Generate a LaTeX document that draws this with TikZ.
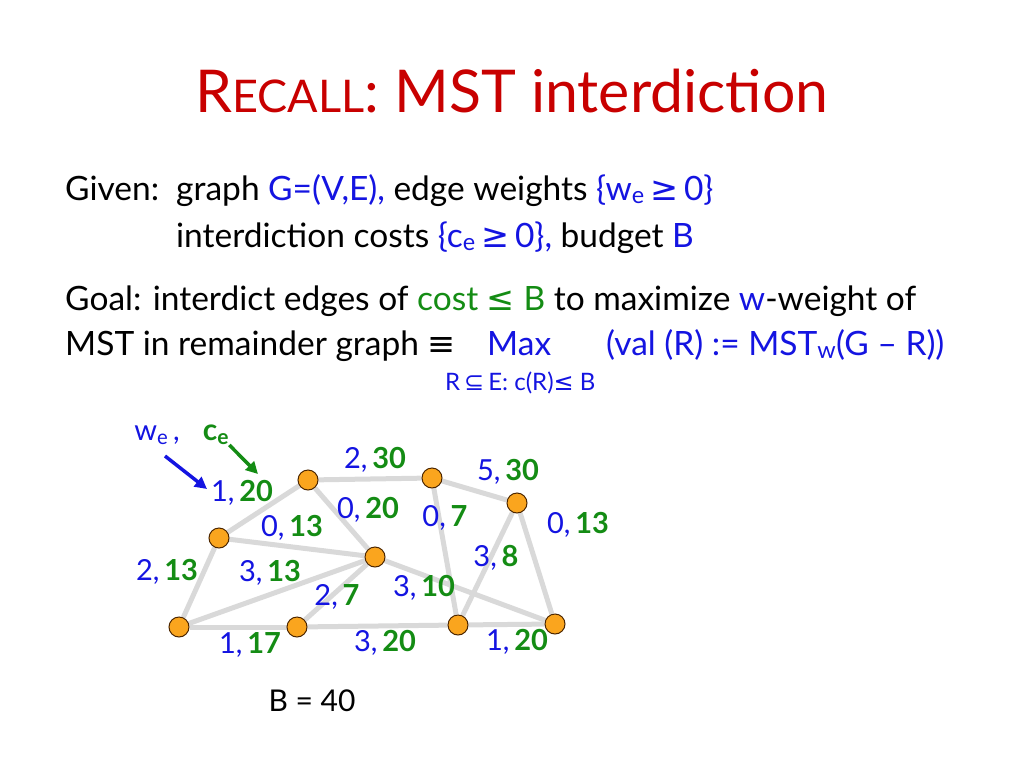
\documentclass[tikz,border=0pt]{standalone}
\usepackage{fontspec}
\setmainfont{Lato}
\newfontfamily\symfont{DejaVu Sans}
\usetikzlibrary{arrows.meta, backgrounds}
\definecolor{titlered}{RGB}{200, 0, 0}
\definecolor{wblue}{RGB}{20, 20, 225}
\definecolor{cgreen}{RGB}{20, 140, 20}
\definecolor{vorange}{RGB}{250, 165, 30}
\newcommand{\wc}[2]{{\color{wblue}#1,\,}{\color{cgreen}\bfseries #2}}

\begin{document}
\begin{tikzpicture}[x=1pt, y=-1pt,
    vertex/.style={circle, fill=vorange, draw=black!70!orange, line width=1pt, minimum size=20pt, inner sep=0pt},
    edge/.style={line width=5pt, black!15},
    elabel/.style={font=\fontsize{29}{33}\selectfont, inner sep=0pt},
    txt/.style={anchor=base west, inner sep=0pt, font=\fontsize{33.5}{38}\selectfont}]
\useasboundingbox (0,0) rectangle (1024,768);
% title
\node[anchor=base, inner sep=0pt, text=titlered] (title) at (512,112)
    {\fontsize{59}{64}\selectfont R\fontsize{45}{50}\selectfont ECALL\fontsize{59}{64}\selectfont: MST interdiction};
% problem statement
\node[txt] (given) at (65,200) {Given:};
\node[txt] (line1) at (176,200) {graph {\color{wblue}G=(V,E),} edge weights {\color{wblue}\{w\textsubscript{e}\,\symfont ≥\,\normalfont 0\}}};
\node[txt] (line2) at (176,247) {interdiction costs {\color{wblue}\{c\textsubscript{e}\,\symfont ≥\,\normalfont 0\},} budget {\color{wblue}B}};
\node[txt] (goal) at (65,310) {Goal: interdict edges of {\color{cgreen}cost {\symfont ≤} B} to maximize {\color{wblue}w}-weight of};
\node[txt] (line4) at (65,355) {MST in remainder graph {\symfont ≡}};
\node[txt, text=wblue] (maxop) at (487,355) {Max};
\node[txt, text=wblue] (valr) at (606,355) {(val (R) := MST\textsubscript{w}(G -- R))};
\node[anchor=base west, inner sep=0pt, text=wblue, font=\fontsize{24}{28}\selectfont] (maxsub) at (445,390) {R\,{\symfont ⊆}\,E: c(R){\symfont ≤} B};
% graph
\node[vertex] (n1) at (308,480) {};
\node[vertex] (n2) at (432,478) {};
\node[vertex] (n3) at (517,503) {};
\node[vertex] (n4) at (219,538) {};
\node[vertex] (n5) at (375,557) {};
\node[vertex] (n6) at (179,627) {};
\node[vertex] (n7) at (297,627) {};
\node[vertex] (n8) at (458,625) {};
\node[vertex] (n9) at (555,624) {};
\begin{scope}[on background layer]
\draw[edge] (n4) -- (n1);
\draw[edge] (n1) -- (n2);
\draw[edge] (n2) -- (n3);
\draw[edge] (n1) -- (n5);
\draw[edge] (n4) -- (n5);
\draw[edge] (n2) -- (n8);
\draw[edge] (n3) -- (n8);
\draw[edge] (n3) -- (n9);
\draw[edge] (n5) -- (n9);
\draw[edge] (n4) -- (n6);
\draw[edge] (n6) -- (n5);
\draw[edge] (n7) -- (n5);
\draw[edge] (n6) -- (n7);
\draw[edge] (n7) -- (n8);
\draw[edge] (n8) -- (n9);
\end{scope}
% edge labels
\node[elabel] (l12) at (375,460) {\wc{2}{30}};
\node[elabel] (l23) at (508,472) {\wc{5}{30}};
\node[elabel] (l41) at (242,493) {\wc{1}{20}};
\node[elabel] (l15) at (368,510) {\wc{0}{20}};
\node[elabel] (l28) at (445,518) {\wc{0}{7}};
\node[elabel] (l39) at (578,525) {\wc{0}{13}};
\node[elabel] (l45) at (292,528) {\wc{0}{13}};
\node[elabel] (l38) at (496,558) {\wc{3}{8}};
\node[elabel] (l46) at (167,572) {\wc{2}{13}};
\node[elabel] (l65) at (270,573) {\wc{3}{13}};
\node[elabel] (l59) at (424,588) {\wc{3}{10}};
\node[elabel] (l75) at (337,597) {\wc{2}{7}};
\node[elabel] (l67) at (250,645) {\wc{1}{17}};
\node[elabel] (l78) at (385,643) {\wc{3}{20}};
\node[elabel] (l89) at (517,642) {\wc{1}{20}};
% legend
\node[elabel, text=wblue] (wlab) at (157,435) {w\textsubscript{e}\,,};
\node[elabel, text=cgreen, font=\fontsize{30}{34}\selectfont\bfseries] (clab) at (216,435) {c\textsubscript{e}};
\coordinate (wtip) at (207,489);
\coordinate (ctip) at (258,474);
\draw[wblue, line width=3.5pt, -{Triangle[length=12pt, width=12pt]}] (165,456) -- (wtip);
\draw[cgreen, line width=3.5pt, -{Triangle[length=12pt, width=12pt]}] (clab.south east) -- (ctip);
\node[anchor=base, inner sep=0pt, font=\fontsize{30}{34}\selectfont] (budget) at (312,711) {B = 40};
\end{tikzpicture}
\end{document}
